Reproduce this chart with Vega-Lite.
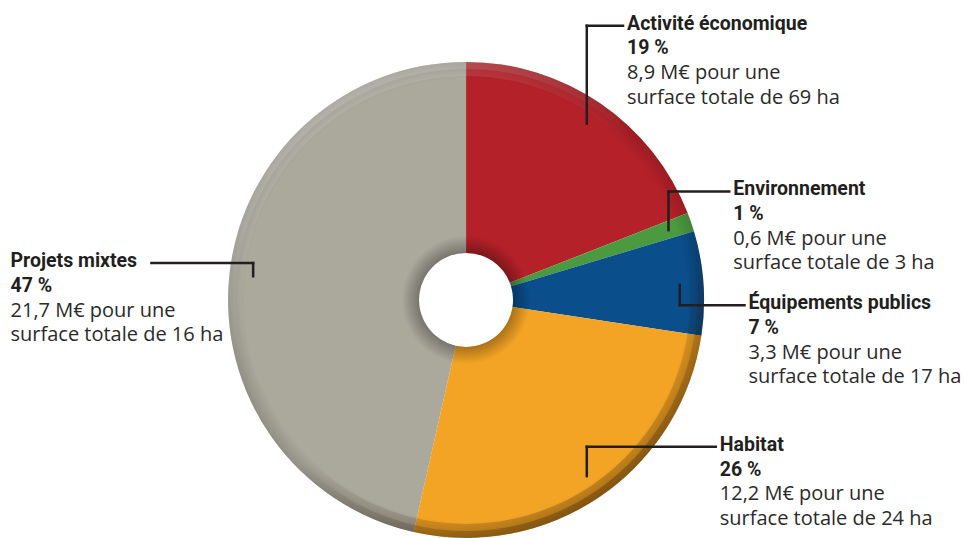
{
  "$schema": "https://vega.github.io/schema/vega-lite/v6.json",
  "width": 964,
  "height": 538,
  "autosize": {"type": "fit", "contains": "padding"},
  "padding": 0,
  "background": "white",
  "config": {"view": {"stroke": null}, "font": "Roboto"},
  "data": {
    "values": [
      {"categorie": "Activité économique", "ordre": 1, "montant": 8.9, "part": 19, "surface": 69},
      {"categorie": "Environnement", "ordre": 2, "montant": 0.6, "part": 1, "surface": 3},
      {"categorie": "Équipements publics", "ordre": 3, "montant": 3.3, "part": 7, "surface": 17},
      {"categorie": "Habitat", "ordre": 4, "montant": 12.2, "part": 26, "surface": 24},
      {"categorie": "Projets mixtes", "ordre": 5, "montant": 21.7, "part": 47, "surface": 16}
    ]
  },
  "layer": [
    {
      "mark": {"type": "arc", "innerRadius": 47, "outerRadius": 238, "stroke": null},
      "encoding": {
        "theta": {"field": "montant", "type": "quantitative", "stack": true},
        "order": {"field": "ordre", "type": "quantitative"},
        "color": {
          "field": "categorie",
          "type": "nominal",
          "scale": {
            "domain": ["Activité économique", "Environnement", "Équipements publics", "Habitat", "Projets mixtes"],
            "range": ["#b42128", "#4c9a3f", "#0a4e8c", "#f3a425", "#aba89c"]
          },
          "legend": null
        },
        "x": {"datum": 0, "type": "quantitative", "scale": {"domain": [-1.958, 2.092], "nice": false, "zero": false}, "axis": null},
        "y": {"datum": 0, "type": "quantitative", "scale": {"domain": [-0.996, 1.265], "nice": false, "zero": false}, "axis": null}
      }
    },
    {
      "transform": [{"aggregate": [{"op": "sum", "field": "montant", "as": "total"}]}],
      "mark": {
        "type": "arc",
        "innerRadius": 47,
        "outerRadius": 238,
        "theta": 0,
        "theta2": 6.2832,
        "stroke": null,
        "fill": {
          "gradient": "radial",
          "x1": 0.5, "y1": 0.5, "r1": 0,
          "x2": 0.5, "y2": 0.5, "r2": 0.5,
          "stops": [
            {"offset": 0, "color": "rgba(0,0,0,0)"},
            {"offset": 0.197, "color": "rgba(0,0,0,0.30)"},
            {"offset": 0.27, "color": "rgba(0,0,0,0)"},
            {"offset": 0.93, "color": "rgba(0,0,0,0)"},
            {"offset": 1, "color": "rgba(0,0,0,0.15)"}
          ]
        }
      },
      "encoding": {
        "x": {"datum": 0, "type": "quantitative", "axis": null},
        "y": {"datum": 0, "type": "quantitative", "axis": null}
      }
    },
    {
      "transform": [{"aggregate": [{"op": "sum", "field": "montant", "as": "total"}]}],
      "mark": {
        "type": "arc",
        "innerRadius": 224,
        "outerRadius": 238,
        "theta": 0,
        "theta2": 6.2832,
        "stroke": null,
        "fill": {
          "gradient": "linear",
          "x1": 0.2, "y1": 0, "x2": 0.8, "y2": 1,
          "stops": [
            {"offset": 0, "color": "rgba(255,255,255,0.16)"},
            {"offset": 0.4, "color": "rgba(255,255,255,0)"},
            {"offset": 0.6, "color": "rgba(40,20,0,0)"},
            {"offset": 1, "color": "rgba(40,20,0,0.3)"}
          ]
        }
      },
      "encoding": {
        "x": {"datum": 0, "type": "quantitative", "axis": null},
        "y": {"datum": 0, "type": "quantitative", "axis": null}
      }
    },
    {
      "transform": [{"aggregate": [{"op": "sum", "field": "montant", "as": "total"}]}],
      "mark": {
        "type": "arc",
        "innerRadius": 231,
        "outerRadius": 238,
        "theta": 0,
        "theta2": 6.2832,
        "stroke": null,
        "fill": {
          "gradient": "linear",
          "x1": 0.2, "y1": 0, "x2": 0.8, "y2": 1,
          "stops": [
            {"offset": 0, "color": "rgba(255,255,255,0.16)"},
            {"offset": 0.4, "color": "rgba(255,255,255,0)"},
            {"offset": 0.6, "color": "rgba(40,20,0,0)"},
            {"offset": 1, "color": "rgba(40,20,0,0.35)"}
          ]
        }
      },
      "encoding": {
        "x": {"datum": 0, "type": "quantitative", "axis": null},
        "y": {"datum": 0, "type": "quantitative", "axis": null}
      }
    },
    {
      "transform": [
        {"joinaggregate": [{"op": "sum", "field": "montant", "as": "total"}]},
        {"window": [{"op": "sum", "field": "montant", "as": "cumul"}], "sort": [{"field": "ordre"}], "frame": [null, 0]},
        {"calculate": "2*PI*(datum.cumul - datum.montant/2)/datum.total", "as": "angle"},
        {"calculate": "1.40*cos(datum.angle)", "as": "yBrut"},
        {"window": [{"op": "lag", "field": "yBrut", "as": "yPrec"}, {"op": "lag", "field": "angle", "as": "anglePrec"}], "sort": [{"field": "ordre"}]},
        {"calculate": "(sin(datum.angle) > 0 && isValid(datum.yPrec) && sin(datum.anglePrec) > 0) ? min(datum.yBrut, datum.yPrec - 0.48) : datum.yBrut", "as": "yPousse"},
        {"calculate": "max(datum.yPousse, -0.62)", "as": "ly"},
        {"calculate": "(sin(datum.angle) > 0 ? 1.17 : -1.33) * sqrt(max(0, 1 - pow(datum.ly/1.40, 2)))", "as": "lx"},
        {"calculate": "0.9*sin(datum.angle)", "as": "px"},
        {"calculate": "0.9*cos(datum.angle)", "as": "py"},
        {"calculate": "sin(datum.angle) > 0 ? datum.lx + 0.017 : datum.lx - 0.592", "as": "tx"},
        {"calculate": "datum.part + ' %'", "as": "l2"},
        {"calculate": "replace(format(datum.montant, '.1f'), '.', ',') + ' M€ pour une'", "as": "l3"},
        {"calculate": "'surface totale de ' + datum.surface + ' ha'", "as": "l4"}
      ],
      "layer": [
        {
          "mark": {"type": "rule", "stroke": "#231f20", "strokeWidth": 2.5, "strokeCap": "square"},
          "encoding": {
            "x": {"field": "px", "type": "quantitative", "axis": null},
            "y": {"field": "py", "type": "quantitative", "axis": null},
            "y2": {"field": "ly"}
          }
        },
        {
          "mark": {"type": "rule", "stroke": "#231f20", "strokeWidth": 2.5, "strokeCap": "square"},
          "encoding": {
            "x": {"field": "px", "type": "quantitative", "axis": null},
            "x2": {"field": "lx"},
            "y": {"field": "ly", "type": "quantitative", "axis": null}
          }
        },
        {
          "mark": {"type": "text", "align": "left", "baseline": "alphabetic", "font": "Roboto", "fontSize": 19.5, "fontWeight": "bold", "color": "#231f20", "dy": 4},
          "encoding": {
            "x": {"field": "tx", "type": "quantitative", "axis": null},
            "y": {"field": "ly", "type": "quantitative", "axis": null},
            "text": {"field": "categorie"}
          }
        },
        {
          "mark": {"type": "text", "align": "left", "baseline": "alphabetic", "font": "Roboto", "fontSize": 19.5, "fontWeight": "bold", "color": "#231f20", "dy": 28.7},
          "encoding": {
            "x": {"field": "tx", "type": "quantitative", "axis": null},
            "y": {"field": "ly", "type": "quantitative", "axis": null},
            "text": {"field": "l2"}
          }
        },
        {
          "mark": {"type": "text", "align": "left", "baseline": "alphabetic", "font": "Open Sans", "fontSize": 20, "color": "#2b2a29", "dy": 53.4},
          "encoding": {
            "x": {"field": "tx", "type": "quantitative", "axis": null},
            "y": {"field": "ly", "type": "quantitative", "axis": null},
            "text": {"field": "l3"}
          }
        },
        {
          "mark": {"type": "text", "align": "left", "baseline": "alphabetic", "font": "Open Sans", "fontSize": 20, "color": "#2b2a29", "dy": 78.1},
          "encoding": {
            "x": {"field": "tx", "type": "quantitative", "axis": null},
            "y": {"field": "ly", "type": "quantitative", "axis": null},
            "text": {"field": "l4"}
          }
        }
      ]
    }
  ]
}
